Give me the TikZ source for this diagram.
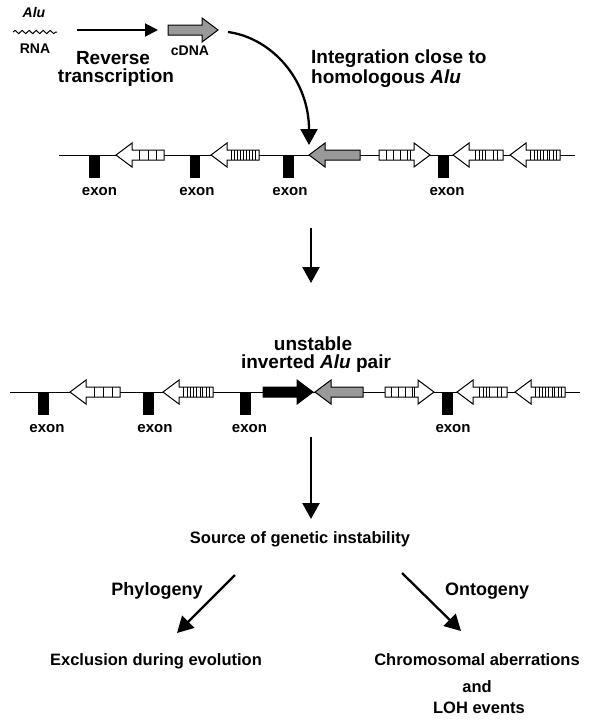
\documentclass[tikz,border=0pt]{standalone}
\usepackage{fontspec}
\setmainfont{Liberation Sans}
\usetikzlibrary{arrows.meta,decorations.pathmorphing,calc}
\tikzset{%
  lbl/.style      = {font=\bfseries\fontsize{19}{21}\selectfont, inner sep=0pt, anchor=base},%
  midlbl/.style   = {lbl, font=\bfseries\fontsize{16.5}{19}\selectfont},%
  exlbl/.style    = {lbl, font=\bfseries\fontsize{15}{18}\selectfont},%
  smalllbl/.style = {lbl, font=\bfseries\fontsize{14}{16}\selectfont},%
  flow/.style     = {line width=2.3pt, -{Triangle[length=16pt,width=17pt]}},%
  thinflow/.style = {line width=2pt, -{Triangle[length=13pt,width=13pt]}},%
  dna/.style      = {line width=0.8pt},%
  exonbox/.style  = {fill=black},%
  alubox/.style   = {draw, line width=1pt, fill=white},%
  grayalu/.style  = {fill=black!40},%
  blackalu/.style = {fill=black}%
}
% block arrow: body end x, tip x, y, extra style
\newcommand\aluarrow[4]{%
  \pgfmathsetmacro\alhb{#2-16*sign(#2-#1)}%
  \draw[alubox,#4] (#1,#3-5) -- (\alhb,#3-5) -- (\alhb,#3-12) -- (#2,#3)
    -- (\alhb,#3+12) -- (\alhb,#3+5) -- (#1,#3+5) -- cycle;}
% stripes inside the body, as fractions from the body end
\newcommand\alustripes[4]{%
  \pgfmathsetmacro\alhb{#2-16*sign(#2-#1)}%
  \foreach \s in #4 {\draw[line width=1pt] ({#1+\s*(\alhb-#1)},#3-5) -- ++(0,10);}}
\newcommand\exon[2]{\fill[exonbox] (#1,#2) rectangle ++(10.5,23);}
\def\boxstr{0.22,0.5,0.76}
\def\finestr{0.1,0.2,0.3,0.38,0.48,0.58,0.66,0.76,0.86}
\def\rightstr{0.2,0.42,0.62,0.82,0.9}
\def\mixstr{0.15,0.27,0.52,0.6,0.68,0.8}

\begin{document}
\begin{tikzpicture}[x=1pt,y=-1pt]
  \useasboundingbox (0,0) rectangle (595,720);

  % RNA -> cDNA
  \node[smalllbl] (alu) at (34,17) {\itshape Alu};
  \coordinate (rna1) at (13,32);
  \coordinate (rna2) at (57,32);
  \draw[decorate, decoration={snake, segment length=7pt, amplitude=1.6pt}, line width=1pt] (rna1) -- (rna2);
  \node[smalllbl] (rna) at (35,53) {RNA};
  \coordinate (rtstart) at (77,30);
  \coordinate (rtend) at (158,30);
  \draw[thinflow] (rtstart) -- (rtend);
  \node[lbl] (rt1) at (113,64) {Reverse};
  \node[lbl] (rt2) at (116,82.5) {transcription};
  \aluarrow{168}{218}{30}{grayalu}
  \node[smalllbl] (cdna) at (190,55) {cDNA};

  % integration
  \coordinate (intstart) at (228,32);
  \coordinate (intend) at (309,145);
  \draw[flow] (intstart) .. controls (272,38) and (309,80) .. (intend);
  \node[lbl, anchor=base west] (int1) at (311,63) {Integration close to};
  \node[lbl, anchor=base west] (int2) at (311,83) {homologous \textit{Alu}};

  % first chromosome
  \coordinate (ca) at (59,155);
  \coordinate (cb) at (575,155);
  \draw[dna] (ca) -- (cb);
  \exon{89}{155}   \node[exlbl] (ex1) at (99.5,195) {exon};
  \exon{189.5}{155}\node[exlbl] (ex2) at (197,195) {exon};
  \exon{283}{155}  \node[exlbl] (ex3) at (290,195) {exon};
  \exon{438}{155}  \node[exlbl] (ex4) at (447,195) {exon};
  \aluarrow{164}{116}{155}{}    \alustripes{164}{116}{155}{\boxstr}
  \aluarrow{259}{211}{155}{}    \alustripes{259}{211}{155}{\finestr}
  \aluarrow{360}{309}{155}{grayalu}
  \aluarrow{379}{430}{155}{}    \alustripes{379}{430}{155}{\rightstr}
  \aluarrow{503}{453}{155}{}    \alustripes{503}{453}{155}{\mixstr}
  \aluarrow{560}{510}{155}{}    \alustripes{560}{510}{155}{\finestr}

  \coordinate (d1a) at (311,228);
  \coordinate (d1b) at (311,283);
  \draw[flow] (d1a) -- (d1b);

  % second chromosome
  \node[lbl] (unst) at (313,350) {unstable};
  \node[lbl] (inv) at (316,368) {inverted \textit{Alu} pair};
  \coordinate (cc) at (10,392);
  \coordinate (cd) at (580,392);
  \draw[dna] (cc) -- (cd);
  \exon{38}{392}   \node[exlbl] (ex5) at (47,432) {exon};
  \exon{143}{392}  \node[exlbl] (ex6) at (155,432) {exon};
  \exon{240}{392}  \node[exlbl] (ex7) at (249.5,432) {exon};
  \exon{442}{392}  \node[exlbl] (ex8) at (453,432) {exon};
  \aluarrow{120}{70}{392}{}     \alustripes{120}{70}{392}{\boxstr}
  \aluarrow{213}{163}{392}{}    \alustripes{213}{163}{392}{\finestr}
  \aluarrow{263}{313}{392}{blackalu}
  \aluarrow{363}{315}{392}{grayalu}
  \aluarrow{385}{434}{392}{}    \alustripes{385}{434}{392}{\rightstr}
  \aluarrow{507}{457}{392}{}    \alustripes{507}{457}{392}{\mixstr}
  \aluarrow{565}{515}{392}{}    \alustripes{565}{515}{392}{\finestr}

  \coordinate (d2a) at (311,437);
  \coordinate (d2b) at (311,519);
  \draw[flow] (d2a) -- (d2b);

  % consequences
  \node[midlbl] (src) at (300,543) {Source of genetic instability};
  \coordinate (phya) at (235,575);
  \coordinate (phyb) at (177,633);
  \coordinate (ontoa) at (402,573);
  \coordinate (ontob) at (461,631);
  \draw[flow] (phya) -- (phyb);
  \draw[flow] (ontoa) -- (ontob);
  \node[lbl, font=\bfseries\fontsize{18}{21}\selectfont] (phy) at (157,595) {Phylogeny};
  \node[lbl, font=\bfseries\fontsize{18}{21}\selectfont] (onto) at (487,595) {Ontogeny};
  \node[midlbl] (excl) at (156,665) {Exclusion during evolution};
  \node[midlbl] (chr) at (477,665) {Chromosomal aberrations};
  \node[midlbl] (and) at (477,692) {and};
  \node[midlbl] (loh) at (479,713) {LOH events};
\end{tikzpicture}
\end{document}
